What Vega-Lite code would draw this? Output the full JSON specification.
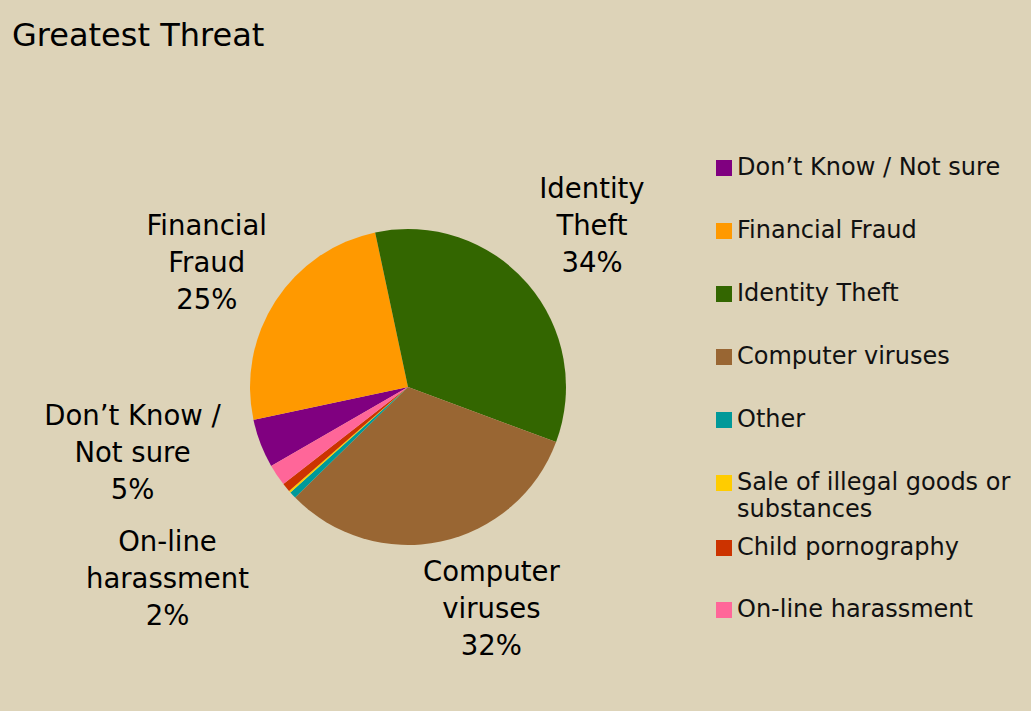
{
  "$schema": "https://vega.github.io/schema/vega-lite/v6.json",
  "autosize": {"type": "none"},
  "width": 816,
  "height": 648,
  "padding": {"left": 0, "top": 63, "right": 215, "bottom": 0},
  "background": "#DDD3B8",
  "view": {"stroke": null},
  "config": {"font": "DejaVu Sans"},
  "title": {"text": "Greatest Threat", "anchor": "start", "frame": "group", "fontSize": 32, "font": "DejaVu Sans", "fontWeight": "normal", "color": "#000000", "baseline": "alphabetic", "offset": 19, "dx": 12, "dy": 34},
  "data": {"values": [
    {"rank": 1, "category": "Don’t Know / Not sure", "value": 5, "label": "Don’t Know /\nNot sure\n5%"},
    {"rank": 2, "category": "Financial Fraud", "value": 25, "label": "Financial\nFraud\n25%"},
    {"rank": 3, "category": "Identity Theft", "value": 34, "label": "Identity\nTheft\n34%"},
    {"rank": 4, "category": "Computer viruses", "value": 32, "label": "Computer\nviruses\n32%"},
    {"rank": 5, "category": "Other", "value": 0.7, "label": ""},
    {"rank": 6, "category": "Sale of illegal goods or substances", "value": 0.2, "label": ""},
    {"rank": 7, "category": "Child pornography", "value": 0.9, "label": ""},
    {"rank": 8, "category": "On-line harassment", "value": 2.2, "label": "On-line\nharassment\n2%"}
  ]},
  "encoding": {
    "theta": {"field": "value", "type": "quantitative", "stack": true, "scale": {"range": [4.18879, 10.47198]}},
    "order": {"field": "rank", "type": "quantitative"}
  },
  "layer": [
    {
      "mark": {"type": "arc", "outerRadius": 158},
      "encoding": {
        "color": {
          "field": "category", "type": "nominal",
          "scale": {
            "domain": ["Don’t Know / Not sure", "Financial Fraud", "Identity Theft", "Computer viruses", "Other", "Sale of illegal goods or substances", "Child pornography", "On-line harassment"],
            "range": ["#800080", "#FF9900", "#336600", "#996633", "#009999", "#FFCC00", "#CC3300", "#FF6699"]
          },
          "legend": {
            "orient": "none", "legendX": 712, "legendY": 93, "title": null,
            "values": ["Don’t Know / Not sure", "Financial Fraud", "Identity Theft", "Computer viruses", "Other", "Sale of illegal goods or substances"],
            "symbolType": "square", "symbolSize": 256, "symbolStrokeWidth": 0,
            "labelFontSize": 24, "labelFont": "DejaVu Sans", "labelColor": "#111111",
            "labelOffset": 1, "rowPadding": 39, "labelLimit": 400,
            "labelExpr": "datum.label === 'Sale of illegal goods or substances' ? ['Sale of illegal goods or', 'substances'] : datum.label",
            "encode": {"labels": {"update": {"lineHeight": {"value": 27}}}}
          }
        }
      }
    },
    {
      "transform": [{"filter": {"field": "category", "oneOf": ["Child pornography", "On-line harassment"]}}],
      "mark": {"type": "arc", "outerRadius": 0},
      "encoding": {
        "fill": {
          "field": "category", "type": "nominal",
          "scale": {"domain": ["Child pornography", "On-line harassment"], "range": ["#CC3300", "#FF6699"]},
          "legend": {
            "orient": "none", "legendX": 712, "legendY": 473, "title": null,
            "symbolType": "square", "symbolSize": 256, "symbolStrokeWidth": 0,
            "labelFontSize": 24, "labelFont": "DejaVu Sans", "labelColor": "#111111",
            "labelOffset": 1, "rowPadding": 38, "labelLimit": 400
          }
        }
      }
    },
    {
      "mark": {"type": "text", "radius": 243, "dy": -38, "fontSize": 27.5, "lineBreak": "\n", "lineHeight": 37, "color": "#000000"},
      "encoding": {"detail": {"field": "category"}, "text": {"condition": {"test": "datum.category === 'Identity Theft'", "field": "label"}, "value": ""}}
    },
    {
      "mark": {"type": "text", "radius": 240, "dy": -29, "fontSize": 27.5, "lineBreak": "\n", "lineHeight": 37, "color": "#000000"},
      "encoding": {"detail": {"field": "category"}, "text": {"condition": {"test": "datum.category === 'Financial Fraud'", "field": "label"}, "value": ""}}
    },
    {
      "mark": {"type": "text", "radius": 228, "dx": 36, "dy": -37, "fontSize": 27.5, "lineBreak": "\n", "lineHeight": 37, "color": "#000000"},
      "encoding": {"detail": {"field": "category"}, "text": {"condition": {"test": "datum.category === 'Computer viruses'", "field": "label"}, "value": ""}}
    },
    {
      "mark": {"type": "text", "radius": 295, "dy": -76, "fontSize": 27.5, "lineBreak": "\n", "lineHeight": 37, "color": "#000000"},
      "encoding": {"detail": {"field": "category"}, "text": {"condition": {"test": "datum.rank === 1", "field": "label"}, "value": ""}}
    },
    {
      "mark": {"type": "text", "radius": 290, "dy": -6, "fontSize": 27.5, "lineBreak": "\n", "lineHeight": 37, "color": "#000000"},
      "encoding": {"detail": {"field": "category"}, "text": {"condition": {"test": "datum.category === 'On-line harassment'", "field": "label"}, "value": ""}}
    }
  ]
}
